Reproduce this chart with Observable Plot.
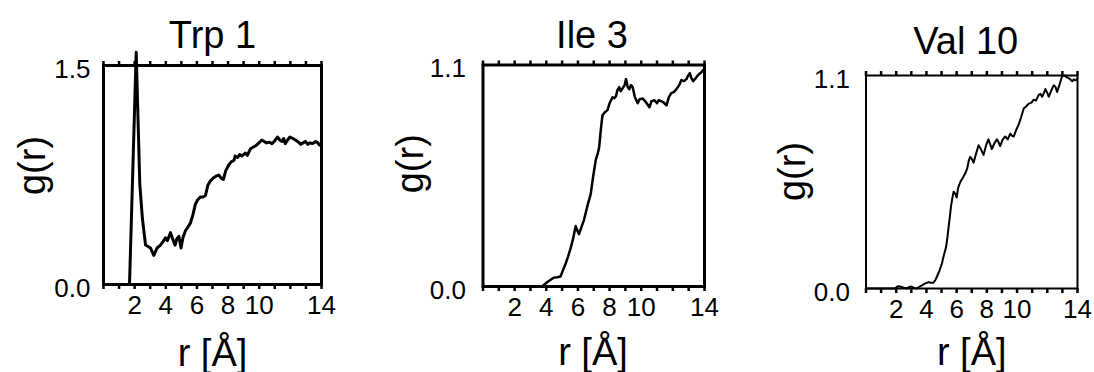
<!DOCTYPE html>
<html><head><meta charset="utf-8">
<script src="https://cdn.jsdelivr.net/npm/d3@7"></script>
<script src="https://cdn.jsdelivr.net/npm/@observablehq/plot@0.6"></script>
<style>
body{margin:0;background:#fff}
#wrap{position:relative;width:1094px;height:372px;overflow:hidden;background:#fff}
#wrap svg{position:absolute;top:0}
</style>
</head><body><div id="wrap"></div>
<script>
const panelTitles = ["Trp 1", "Ile 3", "Val 10"];
const xLabel = "r [Å]";
const yLabel = "g(r)";
const xTickLabels = [2, 4, 6, 8, 10, 14];
const xMinorTicks = [0,1,2,3,4,5,6,7,8,9,10,11,12,13,14];
const xDomain = [0, 14];
const yMaxes = [1.5, 1.1, 1.1];

const trpR = [0,1.67,2.1,2.33,2.5,2.7,3.02,3.23,3.44,3.66,3.8,3.98,4.1,4.3,4.45,4.6,4.7,4.84,4.98,5.1,5.27,5.4,5.58,5.75,5.9,6.05,6.23,6.4,6.55,6.7,6.87,7.05,7.2,7.4,7.55,7.7,7.85,8.05,8.2,8.38,8.45,8.6,8.75,8.9,9.1,9.24,9.44,9.6,9.77,9.98,10.17,10.32,10.47,10.67,10.82,10.97,11.17,11.32,11.47,11.57,11.67,11.82,11.97,12.17,12.33,12.52,12.67,12.82,12.97,13.12,13.27,13.42,13.62,13.77,13.87,14.0];
const trpG = [0,0,1.59,0.69,0.45,0.27,0.25,0.20,0.25,0.27,0.29,0.32,0.30,0.355,0.31,0.27,0.31,0.33,0.25,0.32,0.37,0.39,0.42,0.48,0.55,0.58,0.60,0.60,0.61,0.68,0.71,0.73,0.74,0.75,0.73,0.72,0.78,0.82,0.84,0.85,0.88,0.87,0.89,0.88,0.9,0.885,0.93,0.94,0.95,0.97,0.99,0.98,0.97,0.975,0.965,0.98,1.01,0.99,0.98,1.0,0.965,0.99,1.01,1.0,0.99,0.975,0.96,0.97,0.98,0.96,0.97,0.965,0.98,0.97,0.955,0.965];

const ileR = [0,3.74,4.05,4.3,4.5,4.69,4.9,5.05,5.22,5.38,5.54,5.7,5.86,5.95,6.07,6.2,6.38,6.6,6.81,6.95,7.13,7.25,7.34,7.45,7.55,7.7,7.87,8.0,8.19,8.3,8.4,8.5,8.61,8.7,8.83,8.95,9.04,9.15,9.25,9.35,9.46,9.6,9.78,9.9,10.1,10.3,10.52,10.65,10.84,11.0,11.1,11.27,11.4,11.6,11.75,11.9,12.05,12.23,12.4,12.54,12.7,12.86,12.95,13.07,13.17,13.28,13.45,13.6,13.75,13.92,14.0];
const ileG = [0,0,0.021,0.035,0.045,0.046,0.05,0.08,0.113,0.15,0.19,0.24,0.30,0.28,0.26,0.29,0.33,0.40,0.46,0.54,0.63,0.66,0.69,0.78,0.85,0.865,0.876,0.91,0.94,0.935,0.945,0.975,0.99,0.97,0.985,1.0,1.03,0.99,0.98,1.0,0.99,0.94,0.91,0.93,0.934,0.915,0.89,0.92,0.925,0.91,0.925,0.92,0.915,0.90,0.94,0.96,0.965,0.98,1.0,1.025,1.02,1.03,1.045,1.06,1.035,1.02,1.035,1.05,1.06,1.075,1.08];

const valR = [0,1.92,2.1,2.25,2.5,2.7,2.85,3.0,3.2,3.38,3.55,3.7,3.9,4.14,4.3,4.47,4.6,4.7,4.85,5.02,5.15,5.3,5.4,5.47,5.55,5.62,5.7,5.8,5.9,6.0,6.1,6.24,6.4,6.57,6.7,6.8,6.9,7.0,7.12,7.3,7.45,7.6,7.78,7.95,8.1,8.2,8.33,8.5,8.66,8.75,8.88,9.05,9.22,9.38,9.55,9.65,9.78,9.95,10.1,10.25,10.44,10.6,10.77,10.95,11.1,11.25,11.43,11.55,11.66,11.78,11.88,12.0,12.1,12.25,12.43,12.55,12.65,12.8,12.98,13.15,13.3,13.45,13.65,13.75,13.87,14.0];
const valG = [0,0,0.012,0.01,0.004,0,0.008,0.01,0.003,0,0.01,0.016,0.025,0.033,0.03,0.03,0.045,0.062,0.09,0.128,0.17,0.214,0.27,0.32,0.37,0.42,0.46,0.50,0.49,0.47,0.52,0.55,0.57,0.595,0.62,0.66,0.68,0.67,0.65,0.7,0.74,0.72,0.69,0.74,0.77,0.75,0.72,0.75,0.77,0.76,0.735,0.77,0.785,0.77,0.80,0.79,0.785,0.82,0.846,0.88,0.93,0.94,0.955,0.96,0.975,0.97,1.0,1.005,0.99,1.01,1.03,1.01,0.99,1.02,1.05,1.04,1.015,1.05,1.097,1.1,1.09,1.085,1.07,1.08,1.075,1.085];

const series = [[trpR, trpG], [ileR, ileG], [valR, valG]];

const layout = [
  {left:0,   width:350, ml:103,   mr:29, mt:65,   mb:88, frameW:3, lineW:3,   yPad:13, tDx:0,    tDy:-18,   ylDx:-59,   ylDy:-9.5,  xlDx:0,     xlDy:81},
  {left:360, width:360, ml:122.5, mr:16, mt:64.5, mb:86, frameW:3, lineW:2.5, yPad:17, tDx:-1.75,tDy:-17.5, ylDx:-60.5, ylDy:-12,   xlDx:-0.75, xlDy:78},
  {left:740, width:354, ml:125.5, mr:17, mt:75,   mb:84, frameW:2, lineW:2,   yPad:16, tDx:-6,   tDy:-22,   ylDx:-61.5, ylDy:-10.5, xlDx:0,     xlDy:76}
];

const wrap = document.getElementById("wrap");
const font = "'Liberation Sans', Arial, sans-serif";

layout.forEach((L, i) => {
  const [R, G] = series[i];
  const data = R.map((r, k) => ({r, g: G[k]}));
  const yMax = yMaxes[i];
  const svg = Plot.plot({
    width: L.width, height: 372,
    marginLeft: L.ml, marginRight: L.mr, marginTop: L.mt, marginBottom: L.mb,
    x: {domain: xDomain},
    y: {domain: [0, yMax]},
    style: {fontFamily: font, fontSize: "26px", color: "black", background: "transparent", overflow: "visible"},
    marks: [
      Plot.axisX({anchor: "top", ticks: xMinorTicks, tickSize: 5, strokeWidth: 2.5, tickFormat: () => "", label: null}),
      Plot.axisX({anchor: "bottom", ticks: xMinorTicks, tickSize: 5, strokeWidth: 2.5, tickFormat: () => "", label: null}),
      Plot.axisX({anchor: "bottom", ticks: xTickLabels, tickSize: 0, tickPadding: 11, fontSize: 26, label: null}),
      Plot.axisY({anchor: "left", ticks: [0, yMax], tickSize: 0, tickPadding: L.yPad, tickFormat: d3.format(".1f"), dy: 4, fontSize: 26, label: null}),
      Plot.frame({stroke: "black", strokeWidth: L.frameW}),
      Plot.line(data, {x: "r", y: "g", stroke: "black", strokeWidth: L.lineW, strokeLinejoin: "round"}),
      Plot.text([{t: panelTitles[i]}], {text: "t", frameAnchor: "top", lineAnchor: "bottom", textAnchor: "middle", dx: L.tDx, dy: L.tDy, fontSize: 38}),
      Plot.text([{t: yLabel}], {text: "t", frameAnchor: "left", lineAnchor: "bottom", textAnchor: "middle", rotate: -90, dx: L.ylDx, dy: L.ylDy, fontSize: 38}),
      Plot.text([{t: xLabel}], {text: "t", frameAnchor: "bottom", lineAnchor: "bottom", textAnchor: "middle", dx: L.xlDx, dy: L.xlDy, fontSize: 38})
    ]
  });
  svg.style.left = L.left + "px";
  wrap.appendChild(svg);
});
</script>
</body></html>
